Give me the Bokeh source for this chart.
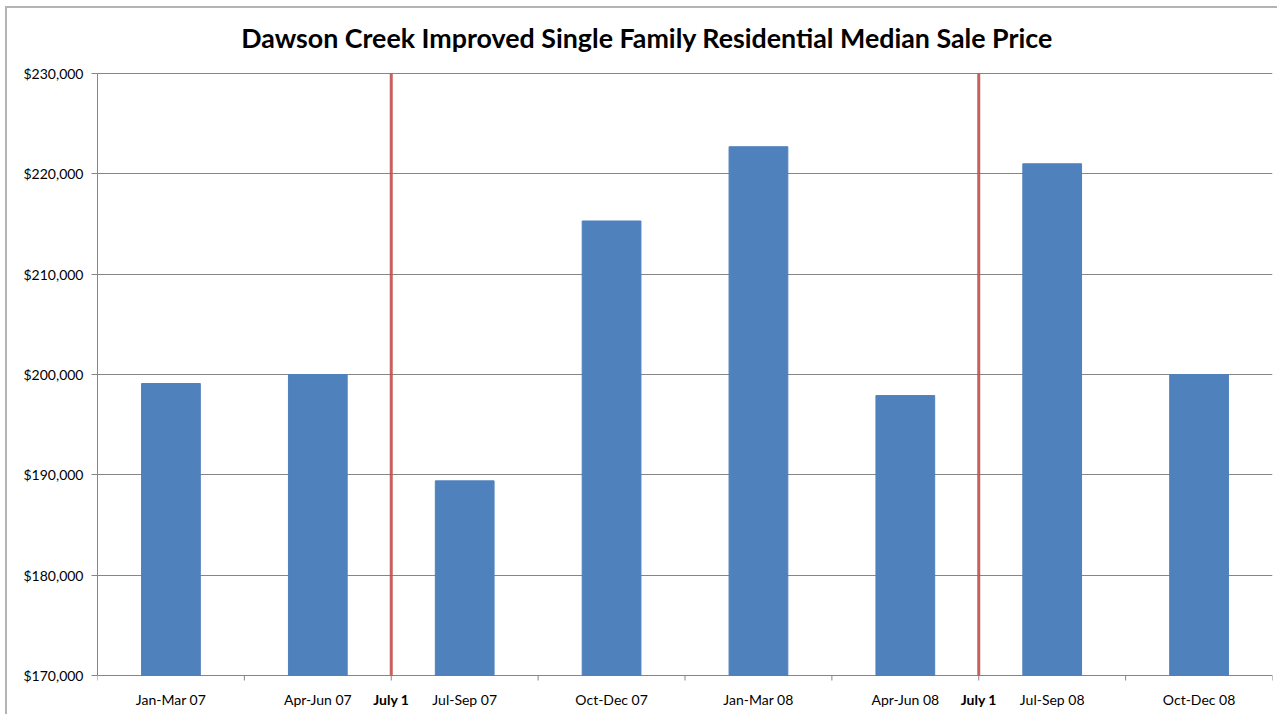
from bokeh.plotting import figure
from bokeh.models import ColumnDataSource, FixedTicker, NumeralTickFormatter, Range1d
from bokeh.core.properties import value
from bokeh.embed import file_html
from bokeh.resources import INLINE

# ---- data ----
quarters = ["Jan-Mar 07", "Apr-Jun 07", "Jul-Sep 07", "Oct-Dec 07",
            "Jan-Mar 08", "Apr-Jun 08", "Jul-Sep 08", "Oct-Dec 08"]
median_price = [199100, 200000, 189400, 215300, 222700, 197900, 221000, 200000]
july1_after = ["Apr-Jun 07", "Apr-Jun 08"]
july1_label = "July 1"
y_ticks = [170000, 180000, 190000, 200000, 210000, 220000, 230000]
title = "Dawson Creek Improved Single Family Residential Median Sale Price"

# ---- layout (pixels) ----
FONT = "Lato"
BORDER = 2
W, H = 1280, 716
LEFT, TOP, RIGHT_EDGE, AXIS_Y = 98, 73, 1273, 675
FRAME_BOTTOM = 712
TITLE_X, TITLE_Y = 647.5, 37
n = len(quarters)
off = 6 + BORDER  # figure offset from css margin+border
y0, y1 = y_ticks[0], y_ticks[-1]
px_per_unit = (AXIS_Y - TOP) / (y1 - y0)
px_per_cat = (RIGHT_EDGE - LEFT) / n
y_start = y0 - (FRAME_BOTTOM - AXIS_Y) / px_per_unit
y_end = y1 + (TOP - off) / px_per_unit
tick_len = 5 / px_per_unit
label_drop = 24 / px_per_unit

p = figure(width=W - off, height=H - off, output_backend="svg", toolbar_location=None,
           x_range=Range1d(0, n), y_range=Range1d(y_start, y_end),
           min_border_left=LEFT - off, min_border_top=0,
           min_border_right=W - RIGHT_EDGE, min_border_bottom=H - FRAME_BOTTOM,
           styles={"margin-left": "5px", "margin-top": "6px",
                   "border-left": f"{BORDER}px solid #b4b4b4",
                   "border-top": f"{BORDER}px solid #b4b4b4"})
p.outline_line_color = None
p.background_fill_color = "white"
p.border_fill_color = "white"

# title (drawn as text so it can sit centred on the whole chart)
p.text(x=[(TITLE_X - LEFT) / px_per_cat], y=[y1 + (TOP - TITLE_Y) / px_per_unit],
       text=[title], text_align="center", text_baseline="middle",
       text_font=value(FONT), text_font_size="26.8px", text_font_style="bold",
       text_color="#000000")

centers = [i + 0.5 for i in range(n)]
src = ColumnDataSource(dict(x=centers, top=median_price, q=quarters,
                            ly=[y0 - label_drop] * n))
p.vbar(x="x", top="top", bottom=y0, width=0.4, source=src,
       fill_color="#4F81BD", line_color="#4F81BD")

# x axis drawn by hand (baseline is the 170,000 grid line)
bounds = list(range(n + 1))
p.segment(x0=bounds, x1=bounds, y0=[y0] * len(bounds), y1=[y0 - tick_len] * len(bounds),
          line_color="#868686", line_width=1)
p.text(x="x", y="ly", text="q", source=src, text_align="center",
       text_baseline="middle", text_font=value(FONT), text_font_size="14px",
       text_color="#000000")

# July 1 markers
jx = [quarters.index(q) + 1 for q in july1_after]
p.segment(x0=jx, x1=jx, y0=[y0] * len(jx), y1=[y1] * len(jx),
          line_color="#C0504D", line_width=3, line_alpha=0.9)
p.text(x=jx, y=[y0 - label_drop] * len(jx), text=[july1_label] * len(jx),
       text_align="center", text_baseline="middle", text_font=value(FONT),
       text_font_size="14px", text_font_style="bold", text_color="#000000")

p.xaxis.visible = False

# y axis
p.yaxis.ticker = FixedTicker(ticks=y_ticks)
p.yaxis.bounds = (y0, y1)
p.yaxis.formatter = NumeralTickFormatter(format="$0,0")
p.yaxis.major_tick_in = 0
p.yaxis.major_tick_out = 6
p.yaxis.minor_tick_line_color = None
p.yaxis.axis_line_color = "#868686"
p.yaxis.major_tick_line_color = "#868686"
p.yaxis.major_label_text_font = FONT
p.yaxis.major_label_text_font_size = "14px"
p.yaxis.major_label_text_color = "#000000"
p.yaxis.major_label_standoff = 8

p.xgrid.grid_line_color = None
p.ygrid.ticker = FixedTicker(ticks=y_ticks)
p.ygrid.grid_line_color = "#868686"
p.ygrid.grid_line_width = 1

open("out.html", "w").write(file_html(p, INLINE))
